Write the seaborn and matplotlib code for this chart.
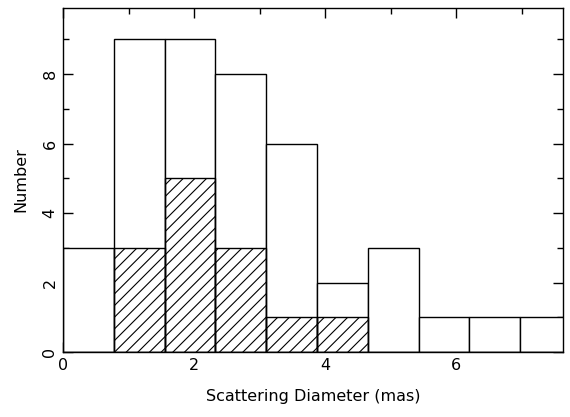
import numpy as np
import pandas as pd
import matplotlib
matplotlib.use("Agg")
import matplotlib.pyplot as plt
import seaborn as sns
from matplotlib.ticker import MultipleLocator

# Data
bin_edges = [0.0, 0.775, 1.55, 2.325, 3.1, 3.875, 4.65, 5.425, 6.2, 6.975, 7.75]
total_counts = [3, 9, 9, 8, 6, 2, 3, 1, 1, 1]
subset_counts = [0, 3, 5, 3, 1, 1, 0, 0, 0, 0]

centers = [(a + b) / 2 for a, b in zip(bin_edges[:-1], bin_edges[1:])]
df_total = pd.DataFrame({"x": centers, "w": total_counts})
df_sub = pd.DataFrame({"x": centers, "w": subset_counts})

DPI = 105
s = 100 / DPI

sns.set_style("ticks")
plt.rcParams["font.family"] = ["DejaVu Sans"]
plt.rcParams["hatch.linewidth"] = 0.8 * s
plt.rcParams["text.color"] = "black"
plt.rcParams["axes.labelcolor"] = "black"
plt.rcParams["xtick.color"] = "black"
plt.rcParams["ytick.color"] = "black"

fig = plt.figure(figsize=(570 / DPI, 417 / DPI), dpi=DPI)
ax = fig.add_axes([63 / 570, 1 - 352 / 417, (563 - 63) / 570, (352 - 8) / 417])

sns.histplot(data=df_total, x="x", weights="w", bins=bin_edges, ax=ax,
             element="bars", facecolor="white", edgecolor="black",
             linewidth=1.0 * s, alpha=1)
sns.histplot(data=df_sub, x="x", weights="w", bins=bin_edges, ax=ax,
             element="bars", facecolor="none", edgecolor="black",
             linewidth=1.0 * s, hatch="///", alpha=1)

ax.set_xlim(0, 7.63)
ax.set_ylim(0, 9.9)
ax.xaxis.set_major_locator(MultipleLocator(2))
ax.xaxis.set_minor_locator(MultipleLocator(1))
ax.yaxis.set_major_locator(MultipleLocator(2))
ax.yaxis.set_minor_locator(MultipleLocator(1))
ax.tick_params(which="both", direction="in", top=True, right=True,
               color="black", width=1.0 * s, pad=4 * s)
ax.tick_params(which="major", length=7 * s, labelsize=11.5 * s)
ax.tick_params(which="minor", length=4 * s)
for lbl in ax.get_yticklabels():
    lbl.set_rotation(90)
    lbl.set_va("center")
for sp in ax.spines.values():
    sp.set_linewidth(1.0 * s)
    sp.set_color("black")

ax.set_xlabel("Scattering Diameter (mas)", fontsize=11.5 * s, labelpad=12 * s)
ax.set_ylabel("Number", fontsize=11.5 * s, labelpad=10 * s)

fig.savefig("out.png", dpi=DPI)
